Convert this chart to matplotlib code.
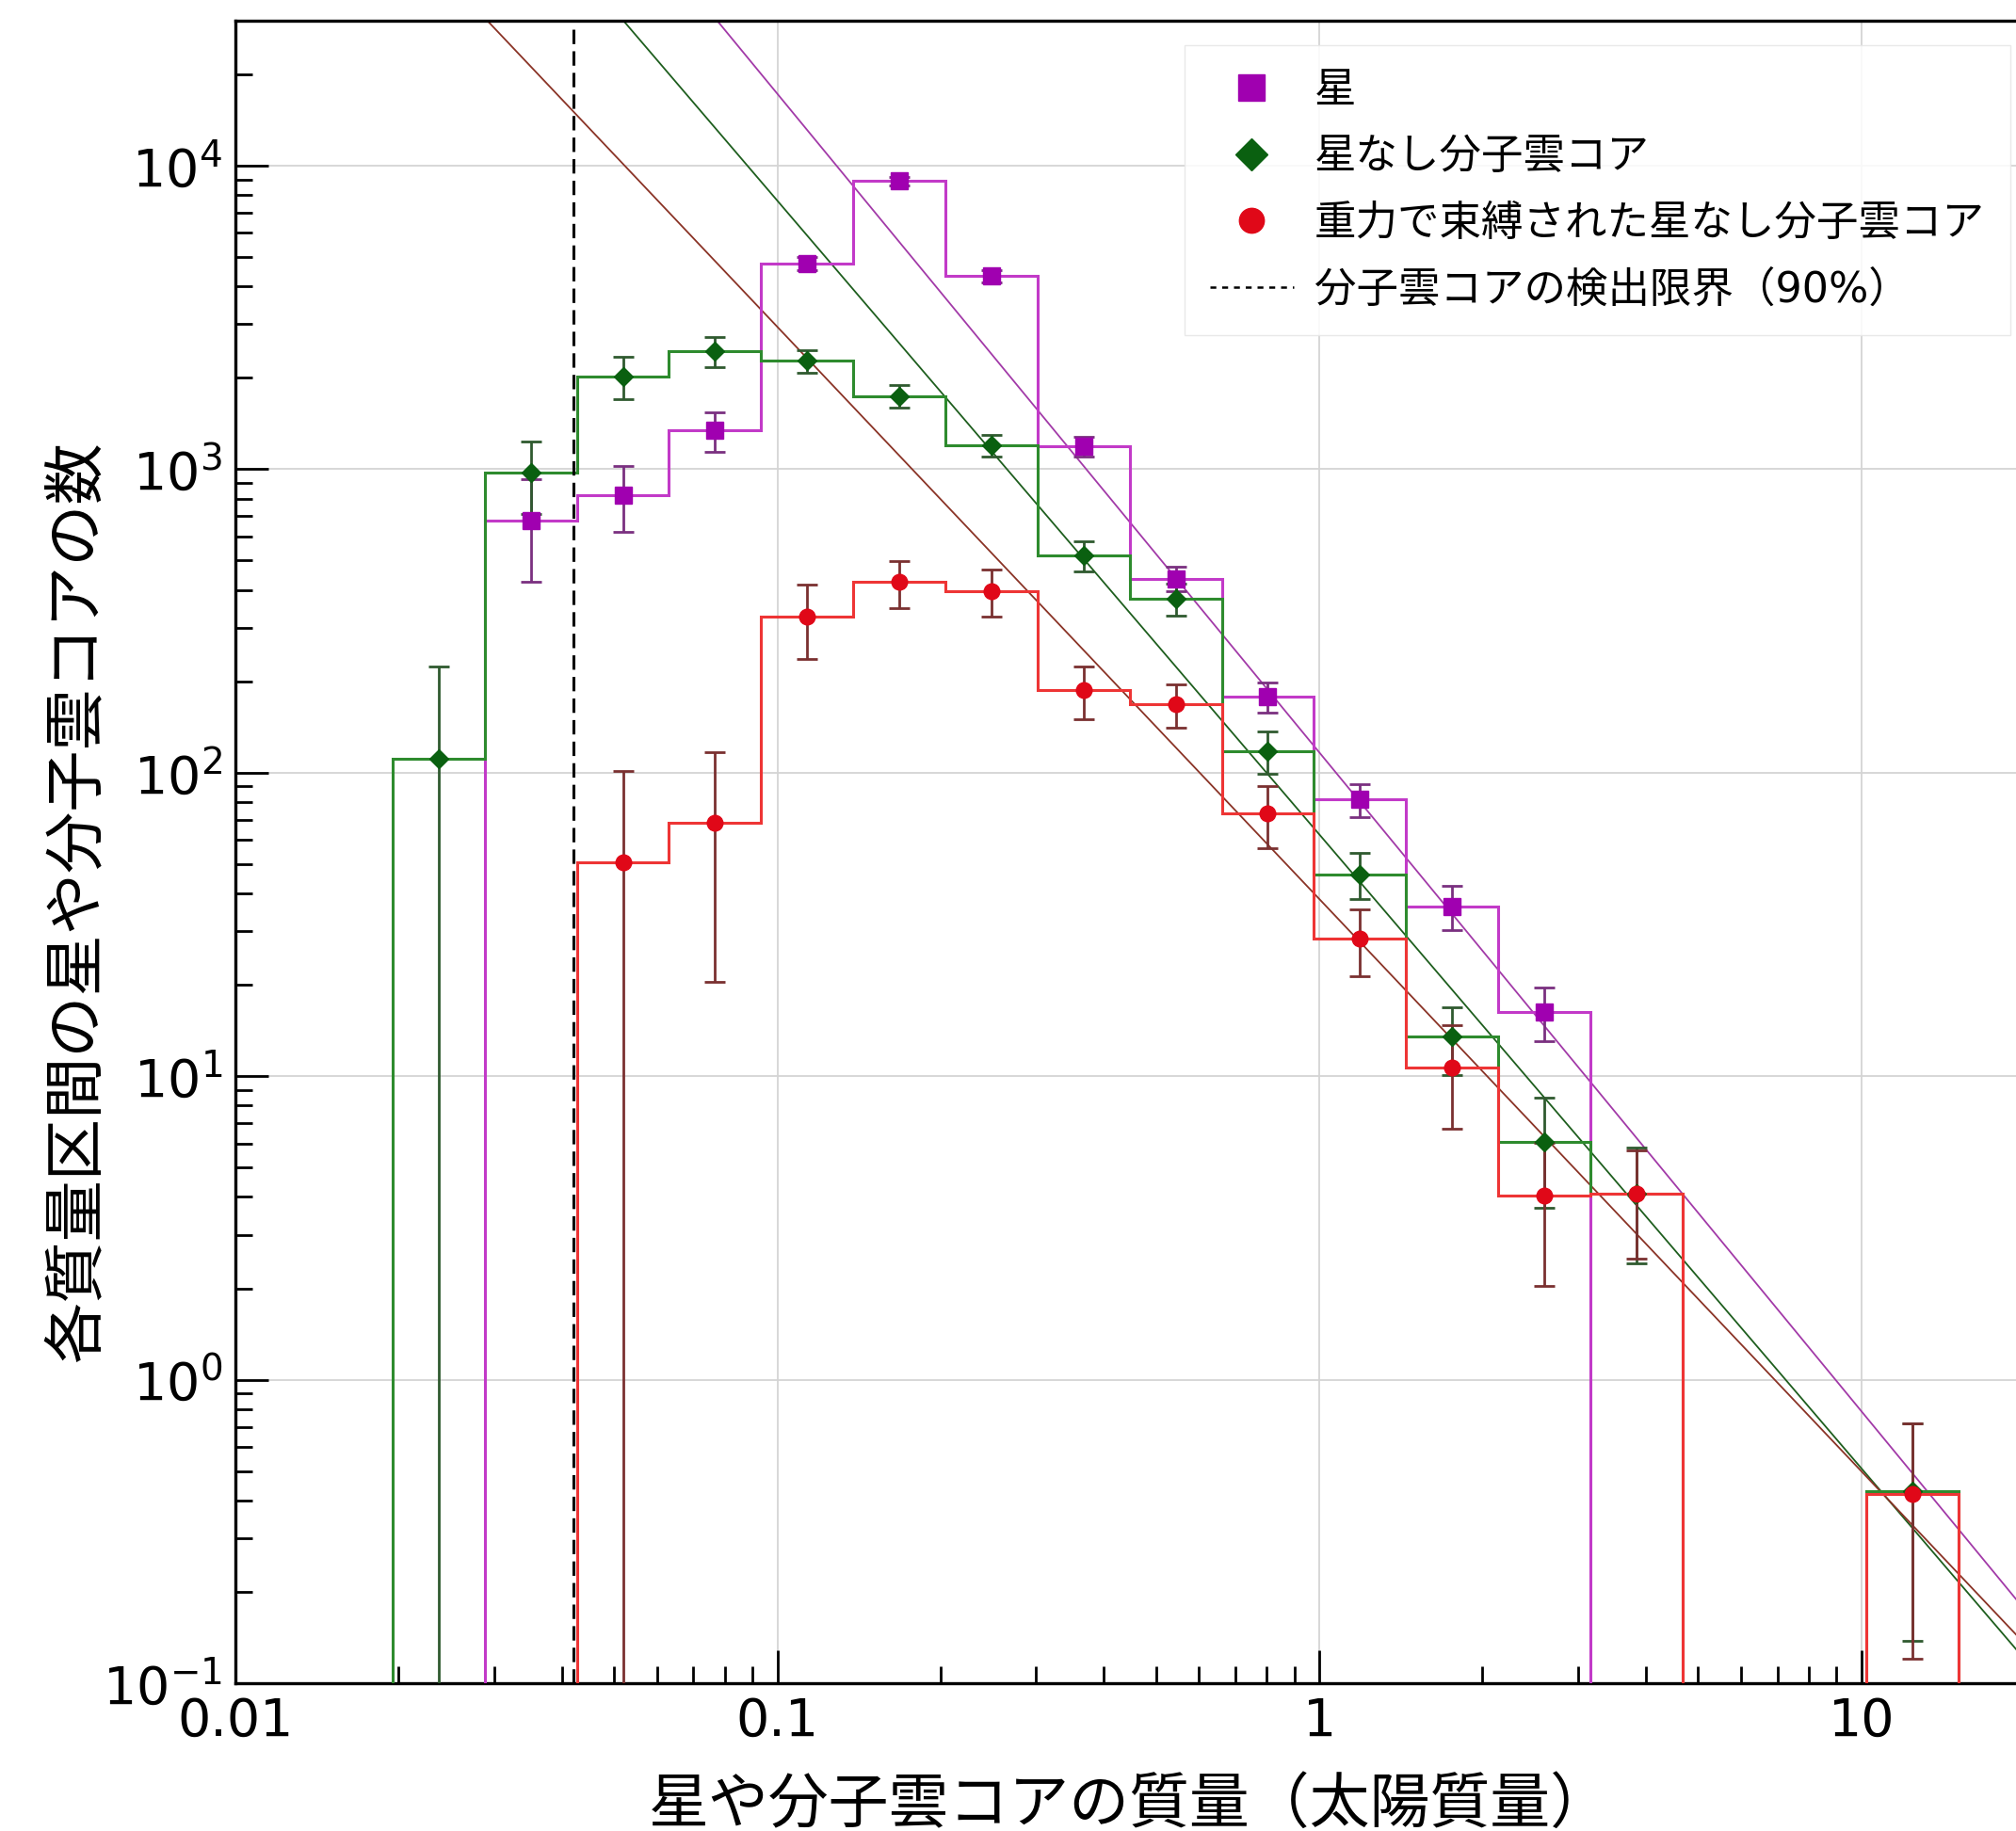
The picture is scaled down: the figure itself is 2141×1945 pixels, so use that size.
import numpy as np
import matplotlib
matplotlib.use('Agg')
import matplotlib.pyplot as plt
from matplotlib.lines import Line2D
from matplotlib.ticker import FixedLocator, FixedFormatter, LogLocator, NullFormatter

plt.rcParams['font.family'] = ['DejaVu Sans', 'Noto Sans CJK JP']

# bin edges (solar masses), 0.17 dex wide
edges = 10 ** np.linspace(-1.71, 1.18, 18)
centers = np.sqrt(edges[:-1] * edges[1:])

# stars
star_n = [0, 676, 822, 1340, 4760, 8900, 4320, 1190, 436, 178, 81.5, 36.3, 16.3, 0, 0, 0, 0]
star_err = [0, 250, 200, 200, 250, 300, 200, 90, 40, 20, 10, 6, 3.3, 0, 0, 0, 0]
# starless cores
core_n = [111, 971, 2020, 2450, 2270, 1740, 1200, 520, 373, 118, 46.3, 13.5, 6.08, 4.11, 0, 0, 0.428]
core_err = [113, 260, 320, 280, 200, 150, 100, 60, 45, 19, 8, 3.4, 2.4, 1.7, 0, 0, 0.29]
# gravitationally bound starless cores
bound_n = [0, 0, 50.5, 68.4, 326, 424, 396, 187, 168, 73.2, 28.4, 10.7, 4.04, 4.1, 0, 0, 0.42]
bound_err = [0, 0, 51, 48, 90, 75, 70, 37, 27, 17, 7, 4, 2, 1.6, 0, 0, 0.3]

# power-law fits: log10(N) = a + s*log10(M)
fit_star = (4.475 - 2.17 * 1.110, -2.17)
fit_core = (4.475 - 2.088 * 1.283, -2.088)
fit_bound = (4.475 - 1.885 * 1.534, -1.885)

det_limit = 0.042

W, H = 2141, 1945
fig = plt.figure(figsize=(W / 100, H / 100), dpi=100)
ax = fig.add_axes([250 / W, 1 - 1788 / H, (2150 - 250) / W, (1788 - 22) / H])
ax.set_xscale('log')
ax.set_yscale('log')
ax.set_xlim(0.01, 20)
ax.set_ylim(0.1, 3e4)

floor = 1e-4
series = [
    (star_n, star_err, '#c23ac8', '#a000b0', '#7a3080', 's', 13, '星'),
    (core_n, core_err, '#2e8b2e', '#0a6010', '#2f5a2f', 'D', 10, '星なし分子雲コア'),
    (bound_n, bound_err, '#ee3535', '#e00818', '#7a3030', 'o', 12, '重力で束縛された星なし分子雲コア'),
]
handles = []
for n, err, c_step, c_mark, c_err, mk, ms, lab in series:
    n = np.array(n, float)
    err = np.array(err, float)
    ax.stairs(np.where(n > 0, n, floor), edges, baseline=floor, color=c_step, lw=2.2, zorder=3)
    m = n > 0
    lo = np.minimum(err[m], n[m] - floor)
    ax.errorbar(centers[m], n[m], yerr=[lo, err[m]], fmt='none', ecolor=c_err,
                elinewidth=2, capsize=8, capthick=2, zorder=4)
    ax.plot(centers[m], n[m], mk, color=c_mark, ms=ms, zorder=5, mec=c_mark)
    handles.append(Line2D([], [], marker=mk, ls='none', color=c_mark, ms=ms + 7, label=lab))

xx = np.array([0.005, 40])
for (a, s), c in [(fit_star, '#a23aa8'), (fit_core, '#1e5e1e'), (fit_bound, '#8a3326')]:
    ax.plot(xx, 10 ** (a + s * np.log10(xx)), color=c, lw=1.3, zorder=2)

ax.axvline(det_limit, color='k', ls=(0, (5, 2.5)), lw=2.2, zorder=3)
handles.append(Line2D([], [], color='k', ls=(0, (2.5, 2.5)), lw=1.8, label='分子雲コアの検出限界（90%）'))

ax.grid(True, which='major', color='#d4d4d4', lw=1.3)
ax.set_axisbelow(True)

ax.xaxis.set_major_locator(FixedLocator([0.01, 0.1, 1, 10]))
ax.xaxis.set_major_formatter(FixedFormatter(['0.01', '0.1', '1', '10']))
ax.xaxis.set_minor_locator(LogLocator(base=10, subs=np.arange(2, 10)))
ax.xaxis.set_minor_formatter(NullFormatter())
ax.yaxis.set_minor_locator(LogLocator(base=10, subs=np.arange(2, 10)))
ax.yaxis.set_minor_formatter(NullFormatter())
ax.tick_params(which='both', direction='in', top=False, right=False, labelsize=40, width=2)
ax.tick_params(which='major', length=25, pad=10)
ax.tick_params(which='minor', length=13)
for sp in ax.spines.values():
    sp.set_linewidth(2.4)
ax.spines['right'].set_visible(False)

ax.set_xlabel('星や分子雲コアの質量（太陽質量）', fontsize=46, labelpad=22)
ax.set_ylabel('各質量区間の星や分子雲コアの数', fontsize=47)
ax.yaxis.set_label_coords(-0.071, 0.47)

leg = fig.legend(handles=handles, loc='upper left', bbox_to_anchor=(1236 / W, 1 - 26 / H),
                 fontsize=32, frameon=True, fancybox=False, framealpha=0.85,
                 edgecolor='#e6e6e6', handlelength=2.0, handletextpad=0.5,
                 labelspacing=0.62, borderpad=0.6)

fig.savefig('out.png', dpi=100)
